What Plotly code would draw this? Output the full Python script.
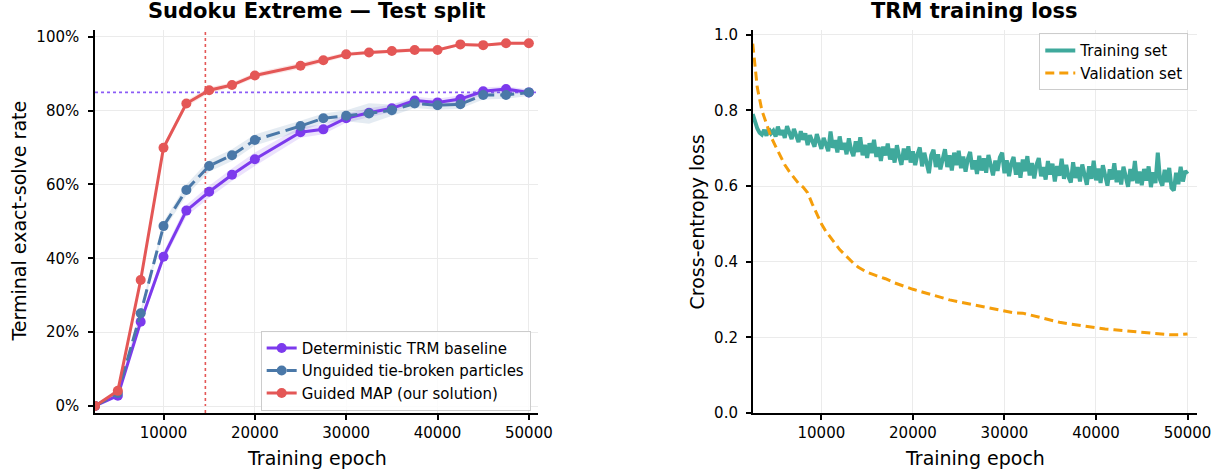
import numpy as np
import plotly.graph_objects as go

FONT = "DejaVu Sans"

# ---- Left panel: exact-solve rate (%) per checkpoint ----
epochs = [2500, 5000, 7500, 10000, 12500, 15000, 17500, 20000, 25000, 27500,
          30000, 32500, 35000, 37500, 40000, 42500, 45000, 47500, 50000]
baseline = [0.0, 2.8, 22.8, 40.4, 52.9, 58.0, 62.6, 66.8, 74.1, 74.9,
            77.9, 79.4, 80.6, 82.7, 82.2, 83.1, 85.2, 85.8, 84.9]
baseline_spread = [0.0, 0.3, 1.0, 1.2, 1.5, 1.6, 1.7, 1.8, 1.5, 1.3,
                   1.2, 1.2, 1.0, 1.0, 1.0, 1.0, 1.0, 0.8, 0.8]
unguided = [0.0, 3.5, 25.1, 48.7, 58.5, 65.0, 67.9, 72.0, 75.8, 77.9,
            78.6, 79.2, 80.1, 81.9, 81.4, 81.7, 84.2, 84.2, 84.9]
unguided_spread = [0.0, 0.3, 1.0, 1.2, 1.5, 1.6, 1.6, 1.5, 1.4, 1.3,
                   1.5, 2.8, 1.5, 1.2, 1.2, 1.2, 1.2, 1.0, 1.0]
guided = [0.0, 4.1, 34.1, 69.9, 81.9, 85.5, 86.9, 89.5, 92.1, 93.6,
          95.2, 95.7, 96.1, 96.4, 96.4, 97.9, 97.7, 98.2, 98.2]
guided_spread = [0.0, 0.3, 0.8, 0.8, 0.8, 0.8, 0.7, 0.7, 0.8, 0.7,
                 0.6, 0.5, 0.5, 0.5, 0.5, 0.4, 0.4, 0.4, 0.4]
pct_ticks = [0, 20, 40, 60, 80, 100]
epoch_ticks = [10000, 20000, 30000, 40000, 50000]

# ---- Right panel: cross-entropy loss ----
loss_epochs = list(range(2500, 50001, 250))
train_loss = [
    0.790, 0.768, 0.752, 0.741, 0.736, 0.748, 0.733, 0.752, 0.739, 0.746,
    0.731, 0.757, 0.735, 0.748, 0.727, 0.758, 0.738, 0.724, 0.751, 0.733,
    0.716, 0.745, 0.722, 0.739, 0.708, 0.734, 0.719, 0.704, 0.737, 0.712,
    0.698, 0.727, 0.705, 0.692, 0.744, 0.701, 0.721, 0.689, 0.731, 0.696,
    0.714, 0.684, 0.726, 0.695, 0.679, 0.718, 0.690, 0.729, 0.681, 0.709,
    0.674, 0.713, 0.687, 0.722, 0.677, 0.703, 0.666, 0.704, 0.681, 0.712,
    0.670, 0.699, 0.662, 0.708, 0.677, 0.656, 0.699, 0.669, 0.705, 0.662,
    0.692, 0.655, 0.684, 0.702, 0.652, 0.688, 0.661, 0.634, 0.681, 0.696,
    0.650, 0.684, 0.644, 0.678, 0.697, 0.650, 0.681, 0.641, 0.688, 0.655,
    0.693, 0.647, 0.678, 0.638, 0.672, 0.690, 0.644, 0.668, 0.632, 0.680,
    0.641, 0.673, 0.635, 0.682, 0.650, 0.628, 0.667, 0.640, 0.676, 0.688,
    0.634, 0.668, 0.626, 0.660, 0.677, 0.630, 0.662, 0.622, 0.670, 0.639,
    0.679, 0.628, 0.661, 0.620, 0.656, 0.674, 0.626, 0.650, 0.617, 0.666,
    0.630, 0.659, 0.612, 0.653, 0.627, 0.672, 0.619, 0.656, 0.624, 0.609,
    0.663, 0.621, 0.650, 0.612, 0.657, 0.626, 0.603, 0.652, 0.619, 0.667,
    0.615, 0.646, 0.608, 0.655, 0.623, 0.601, 0.644, 0.617, 0.660, 0.610,
    0.641, 0.604, 0.651, 0.618, 0.598, 0.645, 0.613, 0.666, 0.607, 0.638,
    0.602, 0.645, 0.614, 0.652, 0.597, 0.636, 0.608, 0.688, 0.616, 0.601,
    0.643, 0.610, 0.648, 0.595, 0.588, 0.635, 0.605, 0.651, 0.612, 0.640,
    0.632,
]
val_epochs = [2500, 3000, 3500, 4000, 4500, 5000, 5500, 6000, 6500, 7000,
              7500, 8000, 8500, 9000, 9500, 10000, 10500, 11000, 11500, 12000,
              12500, 13000, 13500, 14000, 15000, 16000, 17000, 18000, 19000, 20000,
              21000, 22000, 23000, 24000, 25000, 26000, 27000, 28000, 29000, 30000,
              31000, 32000, 33000, 34000, 35000, 36000, 37000, 38000, 39000, 40000,
              41000, 42000, 43000, 44000, 45000, 46000, 47000, 48000, 49000, 50000]
val_loss = [0.976, 0.860, 0.800, 0.765, 0.730, 0.705, 0.680, 0.656, 0.638, 0.622,
            0.607, 0.597, 0.582, 0.553, 0.524, 0.500, 0.480, 0.463, 0.447, 0.432,
            0.420, 0.407, 0.396, 0.386, 0.372, 0.363, 0.355, 0.344, 0.335, 0.327,
            0.320, 0.313, 0.305, 0.299, 0.294, 0.289, 0.284, 0.279, 0.273, 0.268,
            0.265, 0.264, 0.258, 0.253, 0.245, 0.240, 0.236, 0.232, 0.228, 0.225,
            0.222, 0.220, 0.218, 0.217, 0.215, 0.212, 0.209, 0.207, 0.207, 0.209]
loss_ticks = [0.0, 0.2, 0.4, 0.6, 0.8, 1.0]

PURPLE = "#7c3aed"
BLUE = "#4a78a8"
RED = "#e45756"
TEAL = "#3fa99c"
ORANGE = "#f59e0b"


def rgba(hex_color, alpha):
    h = hex_color.lstrip("#")
    r, g, b = int(h[0:2], 16), int(h[2:4], 16), int(h[4:6], 16)
    return f"rgba({r},{g},{b},{alpha})"


fig = go.Figure()

series = [
    ("Deterministic TRM baseline", baseline, baseline_spread, PURPLE, "solid"),
    ("Unguided tie-broken particles", unguided, unguided_spread, BLUE, "14px,6px"),
    ("Guided MAP (our solution)", guided, guided_spread, RED, "solid"),
]

# shaded spread bands
for name, vals, spread, color, dash in series:
    v = np.array(vals)
    s = np.array(spread)
    fig.add_trace(go.Scatter(
        x=epochs + epochs[::-1],
        y=list(v + s) + list((v - s)[::-1]),
        fill="toself", fillcolor=rgba(color, 0.15),
        line=dict(width=0), mode="lines",
        showlegend=False, hoverinfo="skip", xaxis="x", yaxis="y",
    ))

for name, vals, spread, color, dash in series:
    fig.add_trace(go.Scatter(
        x=epochs, y=vals, name=name, mode="lines+markers",
        line=dict(color=color, width=3, dash=dash),
        marker=dict(color=color, size=10),
        xaxis="x", yaxis="y", legend="legend",
    ))

fig.add_trace(go.Scatter(
    x=loss_epochs, y=train_loss, name="Training set", mode="lines",
    line=dict(color=TEAL, width=4), xaxis="x2", yaxis="y2", legend="legend2",
))
fig.add_trace(go.Scatter(
    x=val_epochs, y=val_loss, name="Validation set", mode="lines",
    line=dict(color=ORANGE, width=3, dash="9px,5px"), xaxis="x2", yaxis="y2",
    legend="legend2",
))

# reference lines: final baseline level and the epoch the guided curve reaches it
target = baseline[-1]
idx = next(i for i, v in enumerate(guided) if v >= target)
cross_epoch = epochs[idx - 1] + (target - guided[idx - 1]) / (guided[idx] - guided[idx - 1]) * (epochs[idx] - epochs[idx - 1])

fig.add_shape(type="line", xref="x domain", yref="y", x0=0, x1=1, y0=target, y1=target,
              line=dict(color="#8b5cf6", width=1.6, dash="dot"), layer="below")
fig.add_shape(type="line", xref="x", yref="y domain", x0=cross_epoch, x1=cross_epoch, y0=0, y1=1,
              line=dict(color=RED, width=1.6, dash="dot"), layer="below")

axis_common = dict(
    showline=True, linecolor="black", linewidth=1.5,
    ticks="outside", ticklen=5, tickwidth=1.5, tickcolor="black",
    showgrid=True, gridcolor="#ebebeb", gridwidth=1, zeroline=False,
    automargin=False, tickmode="array",
    tickfont=dict(family=FONT, size=15, color="black"),
)

YDOM = [0.1268, 0.9366]
fig.update_layout(
    width=1218, height=473,
    margin=dict(l=0, r=0, t=0, b=0, autoexpand=False),
    paper_bgcolor="white", plot_bgcolor="white",
    font=dict(family=FONT, color="black"),
    xaxis=dict(domain=[0.078, 0.4417], range=[2500, 51000],
               tickvals=epoch_ticks, ticktext=[str(t) for t in epoch_ticks],
               anchor="y", **axis_common),
    yaxis=dict(domain=YDOM, range=[-1.9, 101.8], tickvals=pct_ticks,
               ticktext=[f"{t}%" for t in pct_ticks], anchor="x",
               ticklabelstandoff=6, **axis_common),
    xaxis2=dict(domain=[0.618, 0.9825], range=[2500, 51000],
                tickvals=epoch_ticks, ticktext=[str(t) for t in epoch_ticks],
                anchor="y2", **axis_common),
    yaxis2=dict(domain=YDOM, range=[0, 1.0124], tickvals=loss_ticks,
                ticktext=[f"{t:.1f}" for t in loss_ticks], anchor="x2",
                ticklabelstandoff=5, **axis_common),
    legend=dict(x=0.4357, xanchor="right", y=0.1317, yanchor="bottom",
                bgcolor="rgba(255,255,255,0.85)", bordercolor="#cccccc", borderwidth=1,
                font=dict(family=FONT, size=15, color="black"), tracegroupgap=0),
    legend2=dict(x=0.9756, xanchor="right", y=0.9296, yanchor="top",
                 bgcolor="rgba(255,255,255,0.85)", bordercolor="#cccccc", borderwidth=1,
                 font=dict(family=FONT, size=15, color="black"), tracegroupgap=0),
    showlegend=True,
)

title_font = dict(family=FONT, size=21, color="black", weight=700)
label_font = dict(family=FONT, size=19, color="black")
annotations = [
    dict(text="Sudoku Extreme — Test split", x=0.2599, y=0.9767, font=title_font),
    dict(text="TRM training loss", x=0.8002, y=0.9767, font=title_font),
    dict(text="Training epoch", x=0.2599, y=0.0317, font=label_font),
    dict(text="Training epoch", x=0.8002, y=0.0317, font=label_font),
    dict(text="Terminal exact-solve rate", x=0.0148, y=0.5317, font=label_font, textangle=-90),
    dict(text="Cross-entropy loss", x=0.5722, y=0.5317, font=label_font, textangle=-90),
]
for a in annotations:
    fig.add_annotation(xref="paper", yref="paper", showarrow=False,
                       xanchor="center", yanchor="middle", **a)

fig.write_html("out.html")
